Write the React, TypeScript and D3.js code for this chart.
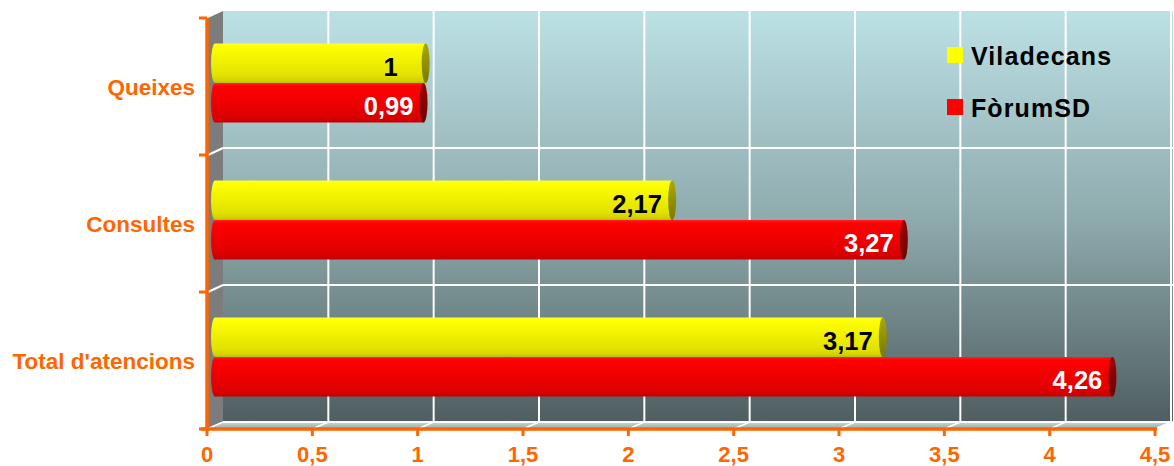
import React from 'react';
import * as d3 from 'd3';

const categories = ['Queixes', 'Consultes', "Total d'atencions"];
const seriesNames = ['Viladecans', 'FòrumSD'];
const viladecans = [1, 2.17, 3.17];
const forumSD = [0.99, 3.27, 4.26];
const xTickValues = [0, 0.5, 1, 1.5, 2, 2.5, 3, 3.5, 4, 4.5];
const xTickLabels = ['0', '0,5', '1', '1,5', '2', '2,5', '3', '3,5', '4', '4,5'];

const W = 1174;
const H = 466;
const ORANGE = '#ff6600';
const FONT = '"Liberation Sans", Arial, Helvetica, sans-serif';

// 3D depth offset of the back wall relative to the front axes
const DX = 16;
const DY = -7;

const x = d3.scaleLinear().domain([0, 4.5]).range([207, 1155]);
const y = d3.scaleBand<string>().domain(categories).range([18, 429]).padding(0);

const BAR_H = 39.5;

const series = [
  { name: seriesNames[0], values: viladecans, grad: 'gYel', end: 'gYelEnd', swatch: '#ffff00', text: '#000000' },
  { name: seriesNames[1], values: forumSD, grad: 'gRed', end: 'gRedEnd', swatch: '#ff0000', text: '#ffffff' },
];

const fmt = (v: number) => String(v).replace('.', ',');

export default function App() {
  const [x0, x1] = x.range();
  const [yTop, yBot] = y.range();
  const backX0 = x0 + DX;
  const backX1 = x1 + DX + 2;
  const backTop = yTop + DY;
  const backBot = yBot + DY;
  const bandBounds = [...categories.map((c) => y(c)!), yBot];

  return (
    <svg width={W} height={H} style={{ position: 'absolute', left: 0, top: 0, background: '#fff' }}>
      <defs>
        <linearGradient id="gWall" gradientUnits="userSpaceOnUse" x1="0" y1={backTop} x2="0" y2={backBot}>
          <stop offset="0" stopColor="#bce1e5" />
          <stop offset="0.5" stopColor="#8fabae" />
          <stop offset="1" stopColor="#4f5e60" />
        </linearGradient>
        <linearGradient id="gFloor" x1="0" y1="0" x2="0" y2="1">
          <stop offset="0" stopColor="#c4d6d7" />
          <stop offset="1" stopColor="#98aeb0" />
        </linearGradient>
        <linearGradient id="gYel" x1="0" y1="0" x2="0" y2="1">
          <stop offset="0" stopColor="#ffff30" />
          <stop offset="0.08" stopColor="#ffff00" />
          <stop offset="0.45" stopColor="#f0f000" />
          <stop offset="0.8" stopColor="#e2e200" />
          <stop offset="0.94" stopColor="#d2d200" />
          <stop offset="1" stopColor="#bcbc00" />
        </linearGradient>
        <linearGradient id="gYelEnd" x1="0" y1="0" x2="0" y2="1">
          <stop offset="0" stopColor="#a8a800" />
          <stop offset="1" stopColor="#7a7a00" />
        </linearGradient>
        <linearGradient id="gRed" x1="0" y1="0" x2="0" y2="1">
          <stop offset="0" stopColor="#ff2020" />
          <stop offset="0.08" stopColor="#ff0000" />
          <stop offset="0.45" stopColor="#f00000" />
          <stop offset="0.85" stopColor="#dc0000" />
          <stop offset="1" stopColor="#c40000" />
        </linearGradient>
        <linearGradient id="gRedEnd" x1="0" y1="0" x2="0" y2="1">
          <stop offset="0" stopColor="#a00000" />
          <stop offset="1" stopColor="#700000" />
        </linearGradient>
      </defs>

      {/* back wall */}
      <rect x={backX0} y={backTop} width={backX1 - backX0} height={backBot - backTop} fill="url(#gWall)" />
      {/* left side wall */}
      <polygon
        points={`${x0 + 1},${yTop} ${backX0},${backTop} ${backX0},${backBot} ${x0 + 1},${yBot}`}
        fill="#7c7c7c"
      />
      {/* floor */}
      <polygon
        points={`${x0},${yBot} ${backX0},${backBot} ${backX1},${backBot} ${x1},${yBot}`}
        fill="url(#gFloor)"
      />

      {/* grid on back wall */}
      {xTickValues.slice(1).map((v) => (
        <line key={`gv${v}`} x1={x(v) + DX} x2={x(v) + DX} y1={backTop} y2={backBot} stroke="#fff" strokeWidth={2} />
      ))}
      {bandBounds.slice(1).map((b, i) => (
        <line key={`gh${i}`} x1={backX0} x2={backX1} y1={b + DY} y2={b + DY} stroke="#fff" strokeWidth={2} />
      ))}
      {/* grid on side wall */}
      {bandBounds.slice(1, -1).map((b, i) => (
        <line key={`gs${i}`} x1={x0 + 1} y1={b} x2={backX0} y2={b + DY} stroke="#fff" strokeWidth={2} />
      ))}
      {/* grid on floor */}
      {xTickValues.map((v) => (
        <line key={`gf${v}`} x1={x(v)} y1={yBot} x2={x(v) + DX} y2={yBot + DY} stroke="#fff" strokeWidth={1.5} />
      ))}

      {/* cylinder bars, drawn at mid depth */}
      {categories.map((c, ci) => {
        const centerY = y(c)! + y.bandwidth() / 2 + DY / 2;
        return series.map((s, si) => {
          const top = centerY - BAR_H + si * BAR_H;
          const v = s.values[ci];
          const xs = x(0) + DX / 2;
          const xe = x(v) + DX / 2;
          const rx = 4;
          const ry = BAR_H / 2;
          const cy = top + ry;
          const body = `M${xs},${top} L${xe},${top} L${xe},${top + BAR_H} L${xs},${top + BAR_H} A${rx},${ry} 0 0 1 ${xs},${top} Z`;
          return (
            <g key={`${c}-${s.name}`}>
              <path d={body} fill={`url(#${s.grad})`} />
              <ellipse cx={xe} cy={cy} rx={rx} ry={ry} fill={`url(#${s.end})`} />
              <text
                x={xe - 35}
                y={cy + 12.5}
                textAnchor="middle"
                fontFamily={FONT}
                fontWeight="bold"
                fontSize={25.5}
                fill={s.text}
              >
                {fmt(v)}
              </text>
            </g>
          );
        });
      })}

      {/* axes */}
      <line x1={x0} x2={x0} y1={yTop} y2={yBot + 1.5} stroke={ORANGE} strokeWidth={3.5} />
      <line x1={x0 - 6} x2={x1 + 2} y1={yBot} y2={yBot} stroke={ORANGE} strokeWidth={3.5} />
      {bandBounds.map((b, i) => (
        <line key={`yt${i}`} x1={x0 - 8} x2={x0} y1={b} y2={b} stroke={ORANGE} strokeWidth={3} />
      ))}
      {xTickValues.map((v) => (
        <line key={`xt${v}`} x1={x(v)} x2={x(v)} y1={yBot} y2={yBot + 7} stroke={ORANGE} strokeWidth={3} />
      ))}
      {xTickValues.map((v, i) => (
        <text
          key={`xl${v}`}
          x={x(v)}
          y={462}
          textAnchor="middle"
          fontFamily={FONT}
          fontWeight="bold"
          fontSize={22}
          fill={ORANGE}
        >
          {xTickLabels[i]}
        </text>
      ))}
      {categories.map((c) => (
        <text
          key={`cl${c}`}
          x={195}
          y={y(c)! + y.bandwidth() / 2 + 8}
          textAnchor="end"
          fontFamily={FONT}
          fontWeight="bold"
          fontSize={22.5}
          fill={ORANGE}
        >
          {c}
        </text>
      ))}

      {/* legend */}
      {series.map((s, i) => (
        <g key={`lg${s.name}`} transform={`translate(947, ${47 + i * 52})`}>
          <rect x={0} y={0} width={16} height={16} fill={s.swatch} />
          <text
            x={24}
            y={18}
            fontFamily={FONT}
            fontWeight="bold"
            fontSize={25}
            letterSpacing={1.1}
            fill="#000"
          >
            {s.name}
          </text>
        </g>
      ))}
    </svg>
  );
}
